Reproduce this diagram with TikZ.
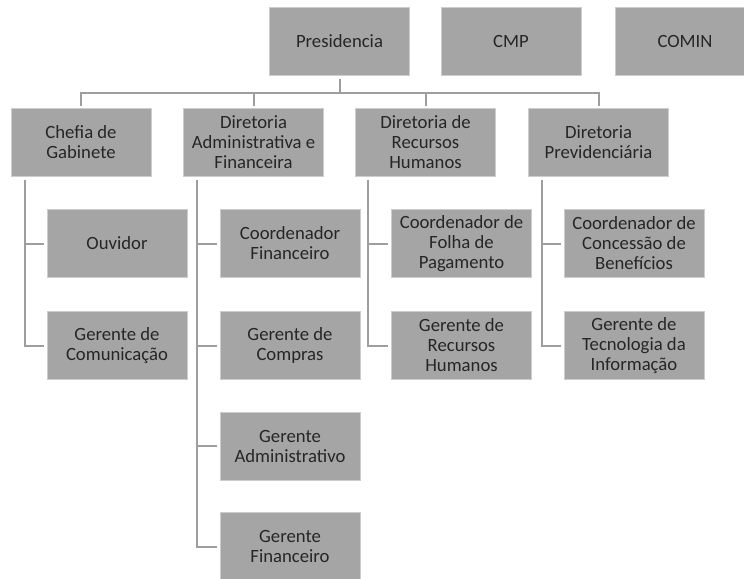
\documentclass[tikz,border=0pt]{standalone}
\usepackage{fontspec}
\setmainfont{Carlito}
\definecolor{boxfill}{RGB}{165,165,165}
\definecolor{boxedge}{RGB}{205,205,205}
\definecolor{linegray}{RGB}{158,158,158}
\definecolor{txt}{RGB}{38,38,38}
\begin{document}
\begin{tikzpicture}[x=1bp,y=-1bp,
  orgbox/.style={draw=boxedge,line width=0.8bp,fill=boxfill,minimum width=140bp,minimum height=68bp,
    inner sep=0pt,align=center,text=txt,font=\fontsize{18.7bp}{20bp}\selectfont},
  conn/.style={draw=linegray,line width=2bp}]
\useasboundingbox (0,0) rectangle (744,579);
\clip (0,0) rectangle (744,579);
% top row
\node[orgbox] (pres) at (339.5,41.5) {Presidencia};
\node[orgbox] (cmp) at (511,41.5) {CMP};
\node[orgbox] (comin) at (685,41.5) {COMIN};
% level 2
\node[orgbox] (chefia) at (81,142) {Chefia de\\Gabinete};
\node[orgbox] (daf) at (253.5,142) {Diretoria\\Administrativa e\\Financeira};
\node[orgbox] (drh) at (425.5,142) {Diretoria de\\Recursos\\Humanos};
\node[orgbox] (dp) at (598.5,142) {Diretoria\\Previdenciária};
% level 3
\node[orgbox] (ouv) at (117,243.5) {Ouvidor};
\node[orgbox] (gcom) at (117,345.5) {Gerente de\\Comunicação};
\node[orgbox] (cfin) at (290,243.5) {Coordenador\\Financeiro};
\node[orgbox] (gcomp) at (290,345.5) {Gerente de\\Compras};
\node[orgbox] (gadm) at (290,446) {Gerente\\Administrativo};
\node[orgbox] (gfin) at (290,546.5) {Gerente\\Financeiro};
\node[orgbox] (cfol) at (461.5,243.5) {Coordenador de\\Folha de\\Pagamento};
\node[orgbox] (grh) at (461.5,345.5) {Gerente de\\Recursos\\Humanos};
\node[orgbox] (ccon) at (634,243.5) {Coordenador de\\Concessão de\\Benefícios};
\node[orgbox] (gti) at (634,345.5) {Gerente de\\Tecnologia da\\Informação};
% bus
\coordinate (bus) at (339.5,93);
\draw[conn,shorten <=3bp] (pres.south) -- (bus);
\draw[conn,shorten <=2bp,shorten >=2bp] (chefia.north) -- (chefia.north |- bus) -- (dp.north |- bus) -- (dp.north);
\draw[conn,shorten >=2bp] (daf.north |- bus) -- (daf.north);
\draw[conn,shorten >=2bp] (drh.north |- bus) -- (drh.north);
% spines
\coordinate (s1) at (25,176);
\coordinate (s2) at (197,176);
\coordinate (s3) at (368,176);
\coordinate (s4) at (542,176);
\draw[conn,shorten <=4bp,shorten >=3bp] (s1) |- (gcom.west);
\draw[conn,shorten >=3bp] (s1 |- ouv.west) -- (ouv.west);
\draw[conn,shorten <=4bp,shorten >=3bp] (s2) |- (gfin.west);
\draw[conn,shorten >=3bp] (s2 |- cfin.west) -- (cfin.west);
\draw[conn,shorten >=3bp] (s2 |- gcomp.west) -- (gcomp.west);
\draw[conn,shorten >=3bp] (s2 |- gadm.west) -- (gadm.west);
\draw[conn,shorten <=4bp,shorten >=3bp] (s3) |- (grh.west);
\draw[conn,shorten >=3bp] (s3 |- cfol.west) -- (cfol.west);
\draw[conn,shorten <=4bp,shorten >=3bp] (s4) |- (gti.west);
\draw[conn,shorten >=3bp] (s4 |- ccon.west) -- (ccon.west);
\end{tikzpicture}
\end{document}
